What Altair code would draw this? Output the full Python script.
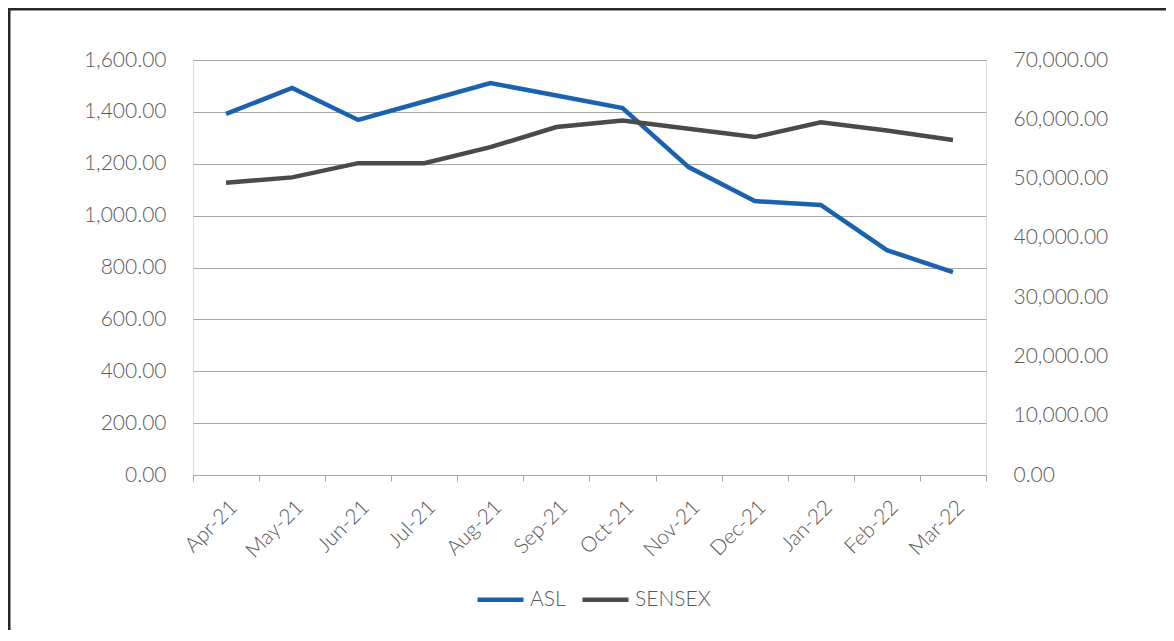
import altair as alt
import pandas as pd

months = ["Apr-21", "May-21", "Jun-21", "Jul-21", "Aug-21", "Sep-21",
          "Oct-21", "Nov-21", "Dec-21", "Jan-22", "Feb-22", "Mar-22"]
asl = [1392, 1492, 1369, 1440, 1511, 1463, 1415, 1187, 1056, 1041, 867, 782]
sensex = [49300, 50200, 52600, 52600, 55300, 58700, 59800, 58400, 57000, 59500, 58100, 56500]
series_names = ["ASL", "SENSEX"]
series_colors = ["#1b62ae", "#4a4a4a"]

df = pd.DataFrame({
    "month": months * 2,
    "series": ["ASL"] * len(months) + ["SENSEX"] * len(months),
    "value": asl + sensex,
})

FONT = "Lato"
FS = 21
LABEL_COLOR = "#5a5a5a"
GRID = "#a6a6a6"

color = alt.Color(
    "series:N",
    scale=alt.Scale(domain=series_names, range=series_colors),
    legend=alt.Legend(
        title=None, orient="none", legendX=282, legendY=514,
        direction="horizontal", symbolType="stroke", symbolSize=2116,
        symbolStrokeWidth=4.5, labelFontSize=FS, labelFont=FONT,
        labelFontWeight=300, labelColor=LABEL_COLOR, labelOffset=4,
        columnPadding=7,
    ),
)

x = alt.X(
    "month:N", sort=months, bandPosition=0.5,
    scale=alt.Scale(type="band", paddingInner=0, paddingOuter=0),
    axis=alt.Axis(
        title=None, labelAngle=-45, tickBand="extent", grid=False,
        domainColor=GRID, tickColor=GRID, tickSize=6, domainWidth=1.2,
        labelFont=FONT, labelFontSize=FS, labelFontWeight=300,
        labelColor=LABEL_COLOR, labelPadding=15,
    ),
)

left = alt.Chart(df).transform_filter(alt.datum.series == "ASL").mark_line(
    strokeWidth=4.5
).encode(
    x=x,
    y=alt.Y(
        "value:Q",
        scale=alt.Scale(domain=[0, 1600]),
        axis=alt.Axis(
            title=None, values=list(range(0, 1601, 200)), format=",.2f",
            grid=True, gridColor=GRID, gridWidth=1.2, domain=False, ticks=False,
            labelFont=FONT, labelFontSize=FS, labelFontWeight=300,
            labelColor=LABEL_COLOR, labelPadding=27,
        ),
    ),
    color=color,
)

right = alt.Chart(df).transform_filter(alt.datum.series == "SENSEX").mark_line(
    strokeWidth=4.5
).encode(
    x=x,
    y=alt.Y(
        "value:Q",
        scale=alt.Scale(domain=[0, 70000]),
        axis=alt.Axis(
            title=None, orient="right", values=list(range(0, 70001, 10000)),
            format=",.2f", grid=False, domain=False, ticks=False,
            labelFont=FONT, labelFontSize=FS, labelFontWeight=300,
            labelColor=LABEL_COLOR, labelPadding=27,
        ),
    ),
    color=color,
)

frame = alt.Chart(alt.Data(values=[{"f": 1}])).mark_rect(
    fill=None, fillOpacity=0, stroke="#262626", strokeWidth=3
).encode(
    x=alt.value(-184), x2=alt.value(1200),
    y=alt.value(-51), y2=alt.value(800),
)

chart = alt.layer(left, right, frame).resolve_scale(y="independent").properties(
    width=793, height=415,
    autosize=alt.AutoSizeParams(type="none"),
    padding={"left": 185, "top": 52, "right": 180, "bottom": 155},
).configure_view(stroke=None).configure(background="white")

chart.save("out.html", embed_options={"renderer": "svg", "actions": False})
